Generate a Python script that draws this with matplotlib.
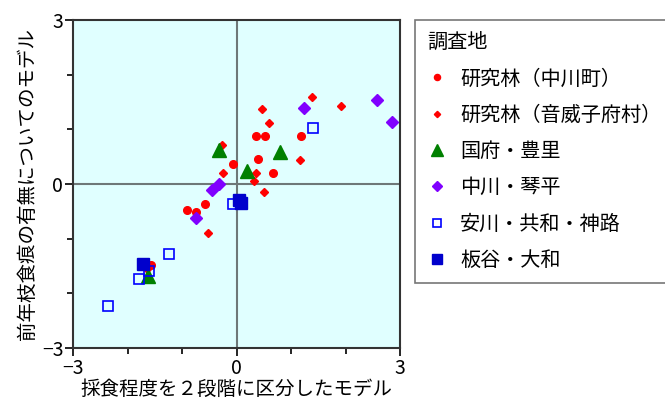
import numpy as np
import matplotlib
matplotlib.use('Agg')
import matplotlib.pyplot as plt
from matplotlib.ticker import MultipleLocator

plt.rcParams['font.family'] = ['Noto Sans CJK JP', 'DejaVu Sans']

# 研究林（中川町）
nakagawa_x = [0.35, 0.53, 1.19, -0.06, 0.40, 0.67, -0.57, -0.90, -0.75, -1.57]
nakagawa_y = [0.88, 0.88, 0.87, 0.37, 0.46, 0.20, -0.36, -0.48, -0.51, -1.48]
# 研究林（音威子府村）
otoineppu_x = [1.39, 0.47, 1.91, 0.59, -0.26, 1.17, -0.24, 0.36, 0.32, 0.50, -0.53, -1.65]
otoineppu_y = [1.60, 1.37, 1.43, 1.12, 0.71, 0.43, 0.21, 0.21, 0.05, -0.15, -0.89, -1.55]
# 国府・豊里
kokufu_x = [-0.32, 0.80, 0.20, -1.63]
kokufu_y = [0.62, 0.58, 0.24, -1.68]
# 中川・琴平
kotohira_x = [1.24, 2.57, 2.86, -0.32, -0.45, -0.75]
kotohira_y = [1.39, 1.54, 1.13, 0.00, -0.11, -0.62]
# 安川・共和・神路
yasukawa_x = [1.41, -0.06, -1.24, -1.60, -1.79, -2.35]
yasukawa_y = [1.03, -0.37, -1.28, -1.60, -1.74, -2.24]
# 板谷・大和
itaya_x = [0.04, 0.08, -1.71]
itaya_y = [-0.29, -0.35, -1.46]

fig = plt.figure(figsize=(6.65, 4.03), dpi=100)
ax = fig.add_axes([73/665, 1-348/403, 327/665, 328/403])
ax.set_facecolor('#E0FFFF')

ax.axhline(0, color='#6E7878', lw=1.5, zorder=1)
ax.axvline(0, color='#6E7878', lw=1.5, zorder=1)

ax.plot(nakagawa_x, nakagawa_y, 'o', ls='none', color='red', ms=5.5, label='研究林（中川町）')
ax.plot(otoineppu_x, otoineppu_y, 'D', ls='none', color='red', ms=4, label='研究林（音威子府村）')
ax.plot(kokufu_x, kokufu_y, '^', ls='none', color='green', ms=10, label='国府・豊里')
ax.plot(kotohira_x, kotohira_y, 'D', ls='none', color='#8000FF', ms=6.5, label='中川・琴平')
ax.plot(yasukawa_x, yasukawa_y, 's', ls='none', mfc='none', mec='blue', mew=1.2, ms=7.5, label='安川・共和・神路')
ax.plot(itaya_x, itaya_y, 's', ls='none', color='#0000CC', ms=9, label='板谷・大和')

ax.set_xlim(-3, 3)
ax.set_ylim(-3, 3)
ax.xaxis.set_major_locator(MultipleLocator(3))
ax.yaxis.set_major_locator(MultipleLocator(3))
ax.xaxis.set_minor_locator(MultipleLocator(1))
ax.yaxis.set_minor_locator(MultipleLocator(1))
ax.tick_params(which='major', length=6, width=1.2, labelsize=14, pad=1)
ax.tick_params(which='minor', length=4, width=1.2)
for s in ax.spines.values():
    s.set_linewidth(1.5)
    s.set_color('#333333')

ax.set_xlabel('採食程度を２段階に区分したモデル', fontsize=14, labelpad=0)
ax.set_ylabel('前年枝食痕の有無についてのモデル', fontsize=14, labelpad=3)

leg = ax.legend(title='調査地', loc='upper left', bbox_to_anchor=(415/665, 1-20/403),
                bbox_transform=fig.transFigure, borderaxespad=0, fontsize=14.5,
                title_fontsize=14.5, labelspacing=0.76, handletextpad=0.65,
                handlelength=1.0, borderpad=0.6, fancybox=False, frameon=True,
                alignment='left', markerscale=0.8)
leg.get_frame().set_edgecolor('#555555')
leg.get_frame().set_linewidth(1.2)

fig.savefig('out.png', dpi=100)
